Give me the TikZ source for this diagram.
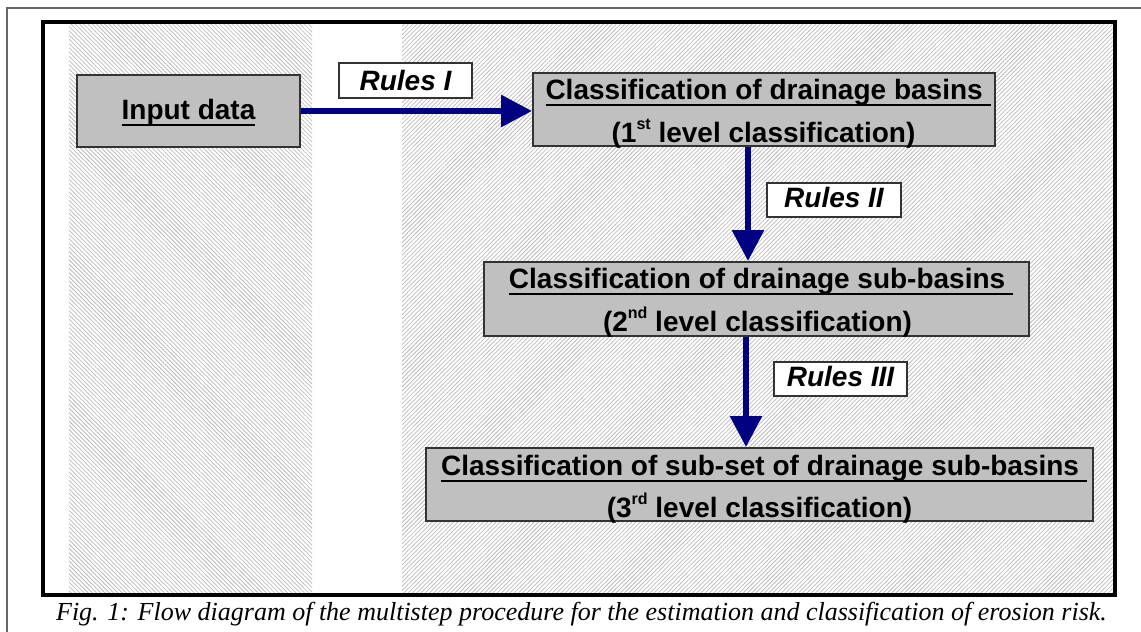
\documentclass[tikz,border=0pt]{standalone}
\usepackage{fontspec}
\setmainfont{Liberation Sans}
\newfontfamily\capfont{Liberation Serif}
\usetikzlibrary{arrows.meta,patterns.meta}
\definecolor{navyarrow}{RGB}{0,0,128}
\definecolor{boxgray}{RGB}{192,192,192}
\definecolor{hatchgray}{RGB}{185,185,185}
\newcommand\myul[1]{\leavevmode\setbox0\hbox{#1}\rlap{\rule[-0.24em]{\wd0}{0.075em}}\box0}
\newcommand\mysup[1]{\raisebox{13pt}{\fontsize{16}{16}\selectfont #1}}
\begin{document}
\begin{tikzpicture}[x=1pt,y=-1pt,
  box/.style={draw=black!80, line width=2pt, fill=boxgray, inner sep=0pt},
  rulebox/.style={draw=black!80, line width=1.5pt, fill=white, inner sep=0pt},
  btxt/.style={font=\fontsize{28}{34}\selectfont\bfseries, inner sep=0pt, anchor=base},
  rtxt/.style={font=\fontsize{28}{34}\selectfont\bfseries\itshape, inner sep=0pt, anchor=base},
  arr/.style={draw=navyarrow, line width=6pt, -{Triangle[length=31pt,width=31pt]}},
  hatch/.style={pattern={Lines[angle=#1,distance=3pt,line width=0.75pt]}, pattern color=hatchgray}]
\useasboundingbox (0,0) rectangle (1141,632);
% hatched background bands
\fill[hatch=-45] (69,23) rectangle (312,593);
\fill[hatch=45] (402,23) rectangle (1113,593);
% frames
\draw[black!60, line width=1.5pt] (7,632) -- (7,8) -- (1141,8);
\draw[line width=4pt] (43,21.5) rectangle (1115,595);
% boxes
\node[box, minimum width=223pt, minimum height=72pt] (inp) at (188.5,111) {};
\node[box, minimum width=462pt, minimum height=73pt] (b1) at (764,109.5) {};
\node[box, minimum width=545pt, minimum height=74pt] (b2) at (756.5,299) {};
\node[box, minimum width=667pt, minimum height=73pt] (b3) at (759.5,484.5) {};
\node[rulebox, minimum width=133pt, minimum height=35pt] (r1) at (405.5,80.5) {};
\node[rulebox, minimum width=134pt, minimum height=34pt] (r2) at (834,200) {};
\node[rulebox, minimum width=133pt, minimum height=34pt] (r3) at (840.5,379) {};
% texts
\node[btxt] (inpt) at (188.5,119) {\myul{Input data}};
\node[btxt] (b1a) at (768,99) {\myul{Classification of drainage basins\ }};
\node[btxt] (b1b) at (763.5,142) {(1\mysup{st} level classification)};
\node[btxt] (b2a) at (761,288) {\myul{Classification of drainage sub-basins\ }};
\node[btxt] (b2b) at (757.5,331) {(2\mysup{nd} level classification)};
\node[btxt] (b3a) at (764,475) {\myul{Classification of sub-set of drainage sub-basins\ }};
\node[btxt] (b3b) at (759.5,517) {(3\mysup{rd} level classification)};
\node[rtxt] (r1t) at (405.5,90.7) {Rules I};
\node[rtxt] (r2t) at (834,207.7) {Rules II};
\node[rtxt] (r3t) at (840.5,386.7) {Rules III};
% arrows
\draw[arr] (inp.east) -- (inp.east -| b1.west);
\draw[arr] ([xshift=-16pt]b1.south) -- ([xshift=-16pt]b1.south |- b2.north);
\draw[arr] ([xshift=-10.5pt]b2.south) -- ([xshift=-10.5pt]b2.south |- b3.north);
% caption
\node[font=\capfont\itshape\fontsize{26}{30}\selectfont, anchor=base, inner sep=0pt] (cap) at (581.5,620)
  {Fig. 1: Flow diagram of the multistep procedure for the estimation and classification of erosion risk.};
\end{tikzpicture}
\end{document}
